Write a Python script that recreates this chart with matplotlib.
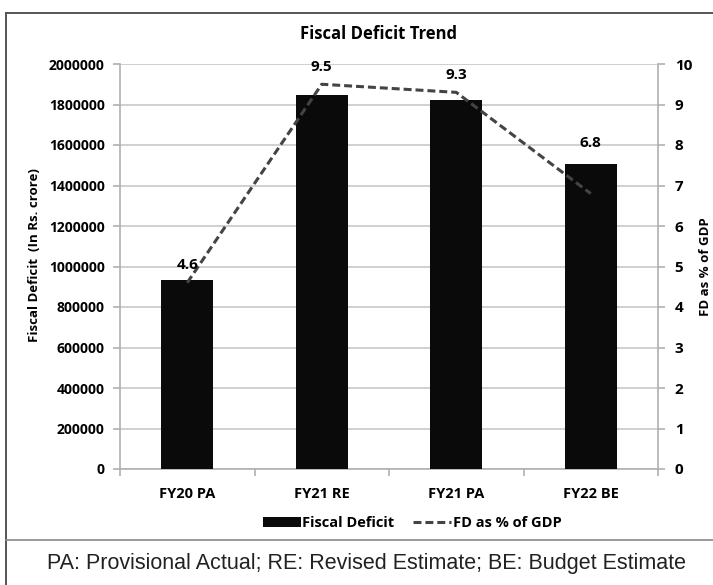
import matplotlib.pyplot as plt
from matplotlib.lines import Line2D
from matplotlib.patches import Patch
import numpy as np

categories = ['FY20 PA', 'FY21 RE', 'FY21 PA', 'FY22 BE']
fiscal_deficit = [933651, 1848655, 1821461, 1506812]
fd_pct_gdp = [4.6, 9.5, 9.3, 6.8]
y_left_ticks = [0, 200000, 400000, 600000, 800000, 1000000, 1200000,
                1400000, 1600000, 1800000, 2000000]
y_right_ticks = [0, 1, 2, 3, 4, 5, 6, 7, 8, 9, 10]

plt.rcParams['font.family'] = ['Open Sans', 'DejaVu Sans']
plt.rcParams['font.weight'] = 'bold'

W, H = 713, 585
fig = plt.figure(figsize=(W / 100, H / 100), dpi=100)
ax = fig.add_axes([120 / W, 1 - 469 / H, (658 - 120) / W, (469 - 64) / H])
ax2 = ax.twinx()

x = np.arange(len(categories))
ax.bar(x, fiscal_deficit, width=0.39, color='#0a0a0a', zorder=3)
ax.set_xlim(-0.5, len(categories) - 0.5)
ax.set_ylim(0, 2000000)
ax.set_yticks(y_left_ticks)
ax.set_yticklabels([str(v) for v in y_left_ticks], fontsize=10, fontweight='bold')
ax.grid(axis='y', color='#c8c8c8', linewidth=1.2, zorder=0)
ax.set_axisbelow(True)

# category labels between boundary ticks
ax.set_xticks(x)
ax.set_xticklabels(categories, fontsize=10.5, fontweight='bold')
ax.tick_params(axis='x', length=0, pad=13)
ax.set_xticks(np.arange(-0.5, len(categories)), minor=True)
ax.tick_params(axis='x', which='minor', length=5, color='#b0b0b0', width=1.2)
ax.tick_params(axis='y', length=5, color='#b0b0b0', width=1.2, pad=6)

for s in ['top', 'right']:
    ax.spines[s].set_visible(False)
for s in ['left', 'bottom']:
    ax.spines[s].set_color('#b0b0b0')
    ax.spines[s].set_linewidth(1.2)

ax.set_ylabel('Fiscal Deficit  (In Rs. crore)', fontsize=9.5, fontweight='bold')
ax.yaxis.set_label_coords((41 - 120) / 538, (469 - 255) / 405)

ax2.plot(x, fd_pct_gdp, color='#444444', linestyle=(0, (2.6, 1.3)), linewidth=2.2, zorder=4)
ax2.set_ylim(0, 10)
ax2.set_yticks(y_right_ticks)
ax2.set_yticklabels([str(v) for v in y_right_ticks], fontsize=11, fontweight='bold')
ax2.tick_params(axis='y', length=5, color='#b0b0b0', width=1.2, pad=7)
for s in ['top', 'left', 'bottom']:
    ax2.spines[s].set_visible(False)
ax2.spines['right'].set_color('#b0b0b0')
ax2.spines['right'].set_linewidth(1.2)
ax2.set_ylabel('FD as % of GDP', fontsize=9.5, fontweight='bold')
ax2.yaxis.set_label_coords((699 - 120) / 538, 0.5)

# data labels: above the line point, or above the bar when the bar is clearly higher
for xi, bar_v, pct in zip(x, fiscal_deficit, fd_pct_gdp):
    bar_pct = bar_v / 200000
    if bar_pct - pct > 0.5:
        ax2.annotate(f'{pct}', (xi, bar_pct), xytext=(0, 15), textcoords='offset points',
                     ha='center', va='center', fontsize=11, fontweight='bold', zorder=5)
    else:
        ax2.annotate(f'{pct}', (xi, pct), xytext=(0, 12.5), textcoords='offset points',
                     ha='center', va='center', fontsize=11, fontweight='bold', zorder=5)

fig.text(379 / W, 1 - 34 / H, 'Fiscal Deficit Trend', ha='center', va='center',
         fontsize=12, fontweight='bold')

handles = [Patch(facecolor='#0a0a0a', edgecolor='none'),
           Line2D([0], [0], color='#444444', linestyle=(0, (2.6, 1.3)), linewidth=2.2)]
fig.legend(handles, ['Fiscal Deficit', 'FD as % of GDP'], loc='center',
           bbox_to_anchor=(412 / W, 1 - 523 / H), ncol=2, frameon=False,
           handlelength=2.6, handleheight=0.75, handletextpad=0.1,
           columnspacing=1.3, prop={'weight': 'bold', 'size': 10.5})

# outer frame and footnote separator
border = '#555555'
fig.add_artist(Line2D([6 / W, 6 / W], [0, 1 - 13 / H], color=border, lw=1.4))
fig.add_artist(Line2D([6 / W, 1], [1 - 13 / H, 1 - 13 / H], color=border, lw=1.4))
fig.add_artist(Line2D([6 / W, 1], [1 - 540 / H, 1 - 540 / H], color='#888888', lw=1.2))

fig.text(367 / W, 1 - 564 / H, 'PA: Provisional Actual; RE: Revised Estimate; BE: Budget Estimate',
         ha='center', va='center', fontsize=15.5, fontweight='normal',
         family=['Liberation Sans', 'DejaVu Sans'], color='#222222')

fig.savefig('out.png', dpi=100)
